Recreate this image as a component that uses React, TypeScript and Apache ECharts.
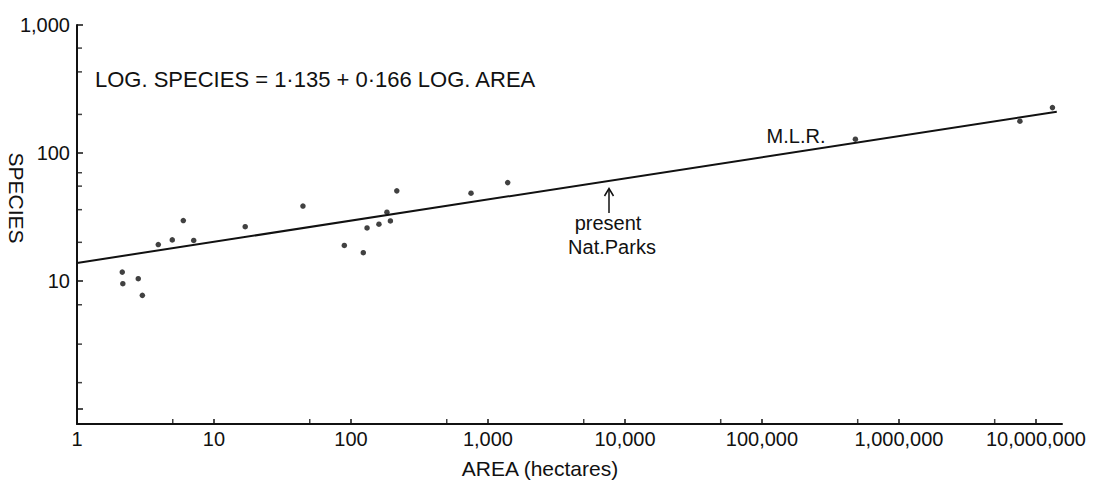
import React, { useEffect, useRef } from "react";
import * as echarts from "echarts";

const areaHa = [2.14, 2.16, 2.8, 3.0, 3.92, 4.96, 5.97, 7.11, 16.9, 44.6, 89.4, 123, 131, 160, 194, 183, 216, 752, 1393, 481000, 7640000, 13200000];
const species = [11.7, 9.5, 10.4, 7.7, 19.2, 20.9, 29.6, 20.7, 26.5, 38.4, 18.9, 16.6, 25.9, 27.7, 29.4, 34.4, 50.5, 48.4, 58.6, 128, 177, 226];

// Regression line (M.L.R.) end points as drawn
const regressionArea = [1, 14200000];
const regressionSpecies = [13.8, 210];

// Axis ticks and labels
const xTickValues = [1, 10, 100, 1000, 10000, 100000, 1000000, 10000000];
const xTickLabels = ["1", "10", "100", "1,000", "10,000", "100,000", "1,000,000", "10,000,000"];
const yTickValues = [10, 100, 1000];
const yTickLabels = ["10", "100", "1,000"];
const xMinorTicks = [5, 50, 500, 5000, 50000, 500000, 5000000];
const yMinorTicks = [1.6, 3.2, 6.5, 20, 36, 55, 70, 200, 430, 660];

const X_MIN = 1;
const X_MAX = 15500000;
const Y_MIN = 0.76;
const Y_MAX = 1000;

const FONT = '"Liberation Sans", Arial, sans-serif';
const INK = "#111";

function labelFor(values: number[], labels: string[]) {
  return (v: number) => {
    const i = values.findIndex((t) => Math.abs(Math.log10(v) - Math.log10(t)) < 1e-6);
    return i >= 0 ? labels[i] : "";
  };
}

export default function App() {
  const ref = useRef<HTMLDivElement>(null);

  useEffect(() => {
    if (!ref.current) return;
    const chart = echarts.init(ref.current, null, { renderer: "svg" });

    const option: any = {
      animation: false,
      backgroundColor: "#fff",
      grid: { left: 77, right: 43, top: 25, bottom: 56, containLabel: false },
      xAxis: {
        type: "log",
        logBase: 10,
        min: X_MIN,
        max: X_MAX,
        splitLine: { show: false },
        axisLine: { show: true, lineStyle: { color: INK, width: 2 } },
        axisTick: { show: true, inside: true, length: 5, lineStyle: { color: INK, width: 1.5 } },
        axisLabel: {
          formatter: labelFor(xTickValues, xTickLabels),
          color: INK,
          fontFamily: FONT,
          fontSize: 20,
          margin: 5,
          showMaxLabel: false,
        },
      },
      yAxis: {
        type: "log",
        logBase: 10,
        min: Y_MIN,
        max: Y_MAX,
        splitLine: { show: false },
        axisLine: { show: true, lineStyle: { color: INK, width: 2 } },
        axisTick: { show: true, inside: true, length: 6, lineStyle: { color: INK, width: 1.5 } },
        axisLabel: {
          formatter: labelFor(yTickValues, yTickLabels),
          color: INK,
          fontFamily: FONT,
          fontSize: 20,
          margin: 7,
          showMinLabel: false,
        },
      },
      series: [
        {
          type: "line",
          data: regressionArea.map((a, i) => [a, regressionSpecies[i]]),
          symbol: "none",
          lineStyle: { color: INK, width: 2 },
          silent: true,
        },
        {
          type: "scatter",
          data: areaHa.map((a, i) => [a, species[i]]),
          symbol: "circle",
          symbolSize: 5.5,
          itemStyle: { color: INK },
          silent: true,
        },
        {
          type: "scatter",
          data: xMinorTicks.map((a) => [a, Y_MIN]),
          symbol: "rect",
          symbolSize: [1.5, 5],
          symbolOffset: [0, -2.5],
          itemStyle: { color: INK },
          clip: false,
          silent: true,
        },
        {
          type: "scatter",
          data: yMinorTicks.map((s) => [X_MIN, s]),
          symbol: "rect",
          symbolSize: [5, 1.5],
          symbolOffset: [2.5, 0],
          itemStyle: { color: INK },
          clip: false,
          silent: true,
        },
      ],
      graphic: [
        {
          type: "text",
          x: 95,
          y: 79,
          style: {
            text: "LOG. SPECIES = 1·135 + 0·166 LOG. AREA",
            font: `22px ${FONT}`,
            fill: INK,
            align: "left",
            verticalAlign: "middle",
          },
        },
        {
          type: "text",
          x: 16,
          y: 198,
          rotation: -Math.PI / 2,
          style: {
            text: "SPECIES",
            font: `21px ${FONT}`,
            fill: INK,
            align: "center",
            verticalAlign: "middle",
          },
        },
        {
          type: "text",
          x: 540,
          y: 468,
          style: {
            text: "AREA (hectares)",
            font: `21px ${FONT}`,
            fill: INK,
            align: "center",
            verticalAlign: "middle",
          },
        },
        {
          type: "text",
          x: 796,
          y: 136,
          style: {
            text: "M.L.R.",
            font: `20px ${FONT}`,
            fill: INK,
            align: "center",
            verticalAlign: "middle",
          },
        },
        {
          type: "text",
          x: 608,
          y: 223,
          style: {
            text: "present",
            font: `20px ${FONT}`,
            fill: INK,
            align: "center",
            verticalAlign: "middle",
          },
        },
        {
          type: "text",
          x: 612,
          y: 247,
          style: {
            text: "Nat.Parks",
            font: `20px ${FONT}`,
            fill: INK,
            align: "center",
            verticalAlign: "middle",
          },
        },
        {
          type: "line",
          shape: { x1: 609, y1: 213, x2: 609, y2: 189 },
          style: { stroke: INK, lineWidth: 1.5 },
        },
        {
          type: "polyline",
          shape: { points: [[604.5, 196], [609, 188.5], [613.5, 196]] },
          style: { stroke: INK, lineWidth: 1.5, fill: "none" },
        },
      ],
    };

    chart.setOption(option);
    return () => chart.dispose();
  }, []);

  return (
    <div
      ref={ref}
      style={{ position: "fixed", left: 0, top: 0, width: 1105, height: 480, background: "#fff" }}
    />
  );
}
